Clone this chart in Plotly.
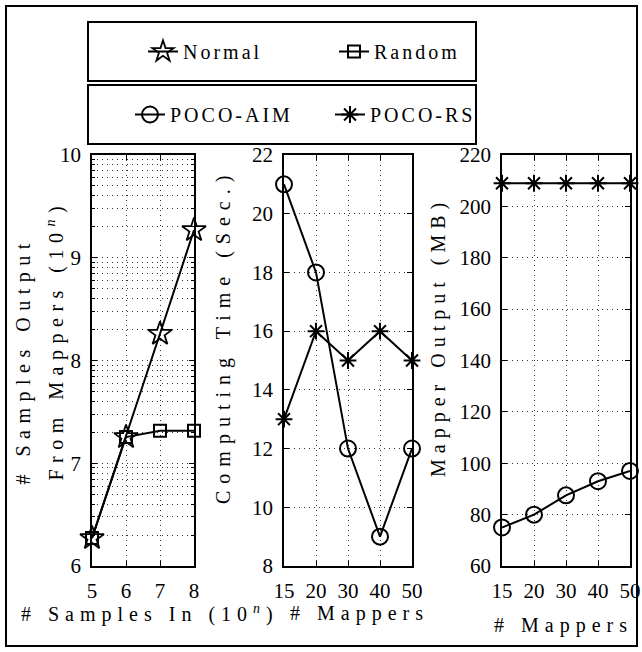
import plotly.graph_objects as go

# ---------------- data ----------------
samples_in = [5, 6, 7, 8]
normal_out = [1.87e6, 1.80e7, 1.82e8, 1.86e9]
random_out = [1.87e6, 1.80e7, 2.07e7, 2.07e7]

mappers = ["15", "20", "30", "40", "50"]
aim_time = [21, 18, 12, 9, 12]
rs_time = [13, 16, 15, 16, 15]
aim_mb = [75, 80, 87.5, 93, 97]
rs_mb = [209, 209, 209, 209, 209]

y1_tickvals = [1e6, 1e7, 1e8, 1e9, 1e10]
y1_ticktext = ["6", "7", "8", "9", "10"]
y2_tickvals = [8, 10, 12, 14, 16, 18, 20, 22]
y3_tickvals = [60, 80, 100, 120, 140, 160, 180, 200, 220]

W, H = 642, 652
TF = "Liberation Serif"


def px_x(v):
    return v / W


def px_y(v):
    return 1 - v / H


def sp(t, ls=6):
    return f'<span style="letter-spacing:{ls}px">{t}</span>'


fig = go.Figure()
lw = 2
fig.add_trace(go.Scatter(x=samples_in, y=normal_out, name=sp("Normal", 3), mode="lines+markers",
                         line=dict(color="black", width=lw),
                         marker=dict(symbol="star-open", size=18, color="black", line=dict(width=1.8, color="black")),
                         xaxis="x", yaxis="y", legend="legend", cliponaxis=False))
fig.add_trace(go.Scatter(x=samples_in, y=random_out, name=sp("Random", 3), mode="lines+markers",
                         line=dict(color="black", width=lw),
                         marker=dict(symbol="square-open", size=12, color="black", line=dict(width=2, color="black")),
                         xaxis="x", yaxis="y", legend="legend", cliponaxis=False))
fig.add_trace(go.Scatter(x=mappers, y=aim_time, name=sp("POCO-AIM", 3), mode="lines+markers",
                         line=dict(color="black", width=lw),
                         marker=dict(symbol="circle-open", size=16, color="black", line=dict(width=2, color="black")),
                         xaxis="x2", yaxis="y2", legend="legend2", cliponaxis=False))
fig.add_trace(go.Scatter(x=mappers, y=rs_time, name=sp("POCO-RS", 3), mode="lines+markers",
                         line=dict(color="black", width=lw),
                         marker=dict(symbol="asterisk-open", size=14, color="black", line=dict(width=2, color="black")),
                         xaxis="x2", yaxis="y2", legend="legend2", cliponaxis=False))
fig.add_trace(go.Scatter(x=mappers, y=aim_mb, name="POCO-AIM", mode="lines+markers", showlegend=False,
                         line=dict(color="black", width=lw),
                         marker=dict(symbol="circle-open", size=16, color="black", line=dict(width=2, color="black")),
                         xaxis="x3", yaxis="y3", cliponaxis=False))
fig.add_trace(go.Scatter(x=mappers, y=rs_mb, name="POCO-RS", mode="lines+markers", showlegend=False,
                         line=dict(color="black", width=lw),
                         marker=dict(symbol="asterisk-open", size=14, color="black", line=dict(width=2, color="black")),
                         xaxis="x3", yaxis="y3", cliponaxis=False))

grid = dict(showgrid=True, gridcolor="#333", gridwidth=1, griddash="1px,4px")
common = dict(showline=True, linecolor="black", linewidth=1.5, mirror="ticks", ticks="inside",
              ticklen=5, tickwidth=1, tickcolor="black", zeroline=False,
              tickfont=dict(family=TF, size=21, color="black"), ticklabelstandoff=5,
              automargin=False, **grid)

ydom = [px_y(566), px_y(155)]
minor_y1 = [k * 10 ** n for n in range(6, 10) for k in range(2, 10)]

fig.update_layout(
    width=W, height=H, margin=dict(l=0, r=0, t=0, b=0),
    paper_bgcolor="white", plot_bgcolor="white",
    xaxis=dict(domain=[px_x(92), px_x(194)], range=[5, 8], tickvals=samples_in, anchor="y", **common),
    yaxis=dict(domain=ydom, type="log", range=[6, 10], tickvals=y1_tickvals, ticktext=y1_ticktext,
               anchor="x",
               minor=dict(tickvals=minor_y1, showgrid=True, gridcolor="#333", gridwidth=1,
                          griddash="1px,4px", ticks="inside", ticklen=3, tickcolor="black"),
               **common),
    xaxis2=dict(domain=[px_x(284), px_x(412)], type="category", range=[0, 4], anchor="y2", **common),
    yaxis2=dict(domain=ydom, range=[8, 22], tickvals=y2_tickvals, anchor="x2", **common),
    xaxis3=dict(domain=[px_x(502), px_x(630)], type="category", range=[0, 4], anchor="y3", **common),
    yaxis3=dict(domain=ydom, range=[60, 220], tickvals=y3_tickvals, anchor="x3", **common),
    legend=dict(orientation="h", x=px_x(143), xanchor="left", y=px_y(51.5), yanchor="middle",
                entrywidth=146, entrywidthmode="pixels", borderwidth=0, bgcolor="rgba(0,0,0,0)",
                font=dict(family=TF, size=20, color="black"), itemsizing="trace"),
    legend2=dict(orientation="h", x=px_x(130), xanchor="left", y=px_y(114.5), yanchor="middle",
                 entrywidth=155, entrywidthmode="pixels", borderwidth=0, bgcolor="rgba(0,0,0,0)",
                 font=dict(family=TF, size=20, color="black"), itemsizing="trace"),
    showlegend=True,
)

shapes = [
    dict(type="rect", xref="paper", yref="paper", x0=px_x(6), x1=px_x(637), y0=px_y(646), y1=px_y(6),
         line=dict(color="black", width=2)),
    dict(type="rect", xref="paper", yref="paper", x0=px_x(88), x1=px_x(476), y0=px_y(81), y1=px_y(22),
         line=dict(color="black", width=2)),
    dict(type="rect", xref="paper", yref="paper", x0=px_x(88), x1=px_x(476), y0=px_y(144), y1=px_y(85),
         line=dict(color="black", width=2)),
]
fig.update_layout(shapes=shapes)

tfont = dict(family=TF, size=20, color="black")
ann = [
    dict(text=sp("# Samples In (10<sup><i>n</i></sup>)"), x=px_x(150), y=px_y(613)),
    dict(text=sp("# Mappers"), x=px_x(359), y=px_y(613)),
    dict(text=sp("# Mappers"), x=px_x(563), y=px_y(625)),
    dict(text=sp("Computing Time (Sec.)", 7), x=px_x(223), y=px_y(337), textangle=-90),
    dict(text=sp("Mapper Output (MB)"), x=px_x(438), y=px_y(337), textangle=-90),
    dict(text=sp("# Samples Output", 6.5), x=px_x(23), y=px_y(487), textangle=-90, yanchor="bottom"),
    dict(text=sp("From Mappers (10<sup><i>n</i></sup>)", 6.5), x=px_x(55), y=px_y(483), textangle=-90,
         yanchor="bottom"),
]
for a in ann:
    a.setdefault("yanchor", "middle")
    fig.add_annotation(xref="paper", yref="paper", xanchor="center", showarrow=False,
                       font=tfont, **a)

fig.write_html("out.html", config={"displayModeBar": False},
               post_script="document.body.style.margin='0';")
